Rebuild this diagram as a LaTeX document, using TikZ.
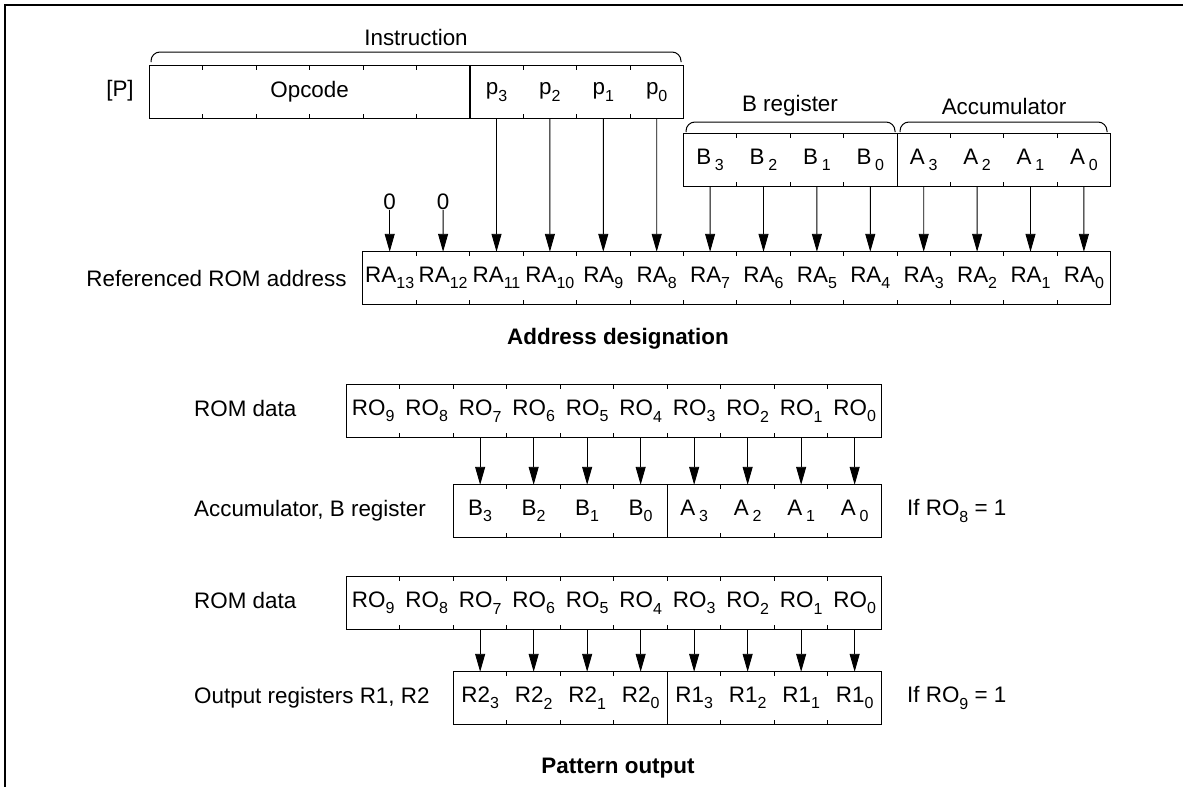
\documentclass[tikz,border=0pt]{standalone}
\usepackage{fontspec}
\setmainfont{Liberation Sans}
\usetikzlibrary{arrows.meta, positioning}
\newcommand{\lowsub}[1]{\raisebox{-6.5pt}{\fontsize{16}{16}\selectfont #1}}

\tikzset{
  txt/.style={font=\fontsize{22.4}{26}\selectfont, inner sep=0pt},
  boldcap/.style={font=\fontsize{22.4}{26}\selectfont\bfseries, inner sep=0pt},
  cell/.style={txt, minimum width=53.4pt, minimum height=52pt},
  midcell/.style={txt, minimum width=53.5pt, minimum height=52pt},
  regbox/.style={line width=1.3pt},
  tick/.style={line width=0.9pt},
  sig/.style={-{Triangle[length=18pt,width=10pt]}, line width=0.9pt},
  bracket/.style={line width=1pt, rounded corners=9pt},
}

\begin{document}
\begin{tikzpicture}[x=1pt,y=-1pt]
\useasboundingbox (0,0) rectangle (1187,787);

% Frame
\draw[line width=1.4pt] (5,787) -- (5,5) -- (1183,5);

% Instruction word
\node[txt] (pname) at (120,91) {[P]};
\node[cell, minimum width=320.4pt] (opcode) at (309.6,92) {Opcode};
\foreach \b [count=\k from 0] in {3,2,1,0}
  \node[cell] (p\b) at (496.5+\k*53.4,92) {p\lowsub{\b}};
\draw[regbox] (opcode.north west) rectangle (p0.south east);
\draw[regbox] (opcode.north east) -- (opcode.south east);
\foreach \i in {1,...,9}
  \draw[tick] (149.4+\i*53.4,66) -- ++(0,4) (149.4+\i*53.4,118) -- ++(0,-4);
\draw[bracket] (151,62) -- (151,52) -- (681,52) -- (681,62);
\node[txt] (instr) at (416,37) {Instruction};

% B register and accumulator
\foreach \b [count=\k from 0] in {3,2,1,0} {
  \node[cell] (b\b) at (710.1+\k*53.4,160) {B\,\lowsub{\b}};
  \node[cell] (a\b) at (923.7+\k*53.4,160) {A\,\lowsub{\b}};
}
\draw[regbox] (b3.north west) rectangle (a0.south east);
\draw[regbox] (b0.north east) -- (b0.south east);
\foreach \i in {1,...,7}
  \draw[tick] (683.4+\i*53.4,134) -- ++(0,4) (683.4+\i*53.4,186) -- ++(0,-4);
\draw[bracket] (686,132) -- (686,122) -- (895,122) -- (895,132);
\draw[bracket] (900,132) -- (900,122) -- (1107,122) -- (1107,132);
\node[txt] (bname) at (790,106) {B register};
\node[txt] (aname) at (1004,106) {Accumulator};

% Referenced ROM address
\foreach \b [count=\k from 0] in {13,12,...,0}
  \node[cell] (ra\b) at (389.7+\k*53.4,278) {RA\lowsub{\b}};
\draw[regbox] (ra13.north west) rectangle (ra0.south east);
\foreach \i in {1,...,13}
  \draw[tick] (363+\i*53.4,252) -- ++(0,4) (363+\i*53.4,304) -- ++(0,-4);
\node[txt, left=16pt of ra13] (raname) {Referenced ROM address};

% Address bits
\node[txt] (z13) at (389.7,202) {0};
\node[txt] (z12) at (443.1,202) {0};
\draw[sig] (z13.south) -- (ra13.north);
\draw[sig] (z12.south) -- (ra12.north);
\foreach \b/\r in {3/11,2/10,1/9,0/8}
  \draw[sig] (p\b.south) -- (ra\r.north);
\foreach \b/\r in {3/7,2/6,1/5,0/4}
  \draw[sig] (b\b.south) -- (ra\r.north);
\foreach \b in {3,2,1,0}
  \draw[sig] (a\b.south) -- (ra\b.north);
\node[boldcap] (capa) at (618,339) {Address designation};

% ROM data to accumulator and B register
\node[txt, anchor=west] (romone) at (194,408) {ROM data};
\foreach \b [count=\k from 0] in {9,8,...,0}
  \node[midcell] (roa\b) at (373.15+\k*53.5,411) {RO\lowsub{\b}};
\draw[regbox] (roa9.north west) rectangle (roa0.south east);
\foreach \i in {1,...,9}
  \draw[tick] (346.4+\i*53.5,385) -- ++(0,4) (346.4+\i*53.5,437) -- ++(0,-4);

\node[txt, anchor=west] (accname) at (194,511) {Accumulator, B register};
\foreach \b [count=\k from 0] in {3,2,1,0} {
  \node[midcell] (accb\b) at (480.15+\k*53.5,511) {B\lowsub{\b}};
  \node[midcell] (acca\b) at (694.15+\k*53.5,511) {A\,\lowsub{\b}};
}
\draw[regbox] (accb3.north west) rectangle (acca0.south east);
\draw[regbox] (accb0.north east) -- (accb0.south east);
\foreach \i in {1,...,7}
  \draw[tick] (453.4+\i*53.5,485) -- ++(0,4) (453.4+\i*53.5,537) -- ++(0,-4);
\node[txt, anchor=west] (ifeight) at (907,511) {If RO\lowsub{8} = 1};
\foreach \b/\r in {3/7,2/6,1/5,0/4}
  \draw[sig] (roa\r.south) -- (accb\b.north);
\foreach \b in {3,2,1,0}
  \draw[sig] (roa\b.south) -- (acca\b.north);

% ROM data to output registers
\node[txt, anchor=west] (romtwo) at (194,600) {ROM data};
\foreach \b [count=\k from 0] in {9,8,...,0}
  \node[midcell] (rob\b) at (373.15+\k*53.5,603) {RO\lowsub{\b}};
\draw[regbox] (rob9.north west) rectangle (rob0.south east);
\foreach \i in {1,...,9}
  \draw[tick] (346.4+\i*53.5,577) -- ++(0,4) (346.4+\i*53.5,629) -- ++(0,-4);

\node[txt, anchor=west] (outname) at (194,698) {Output registers R1, R2};
\foreach \b [count=\k from 0] in {3,2,1,0} {
  \node[midcell] (rtwo\b) at (480.15+\k*53.5,698) {R2\lowsub{\b}};
  \node[midcell] (rone\b) at (694.15+\k*53.5,698) {R1\lowsub{\b}};
}
\draw[regbox] (rtwo3.north west) rectangle (rone0.south east);
\draw[regbox] (rtwo0.north east) -- (rtwo0.south east);
\foreach \i in {1,...,7}
  \draw[tick] (453.4+\i*53.5,672) -- ++(0,4) (453.4+\i*53.5,724) -- ++(0,-4);
\node[txt, anchor=west] (ifnine) at (907,698) {If RO\lowsub{9} = 1};
\foreach \b/\r in {3/7,2/6,1/5,0/4}
  \draw[sig] (rob\r.south) -- (rtwo\b.north);
\foreach \b in {3,2,1,0}
  \draw[sig] (rob\b.south) -- (rone\b.north);
\node[boldcap] (capb) at (618,768) {Pattern output};
\end{tikzpicture}
\end{document}
